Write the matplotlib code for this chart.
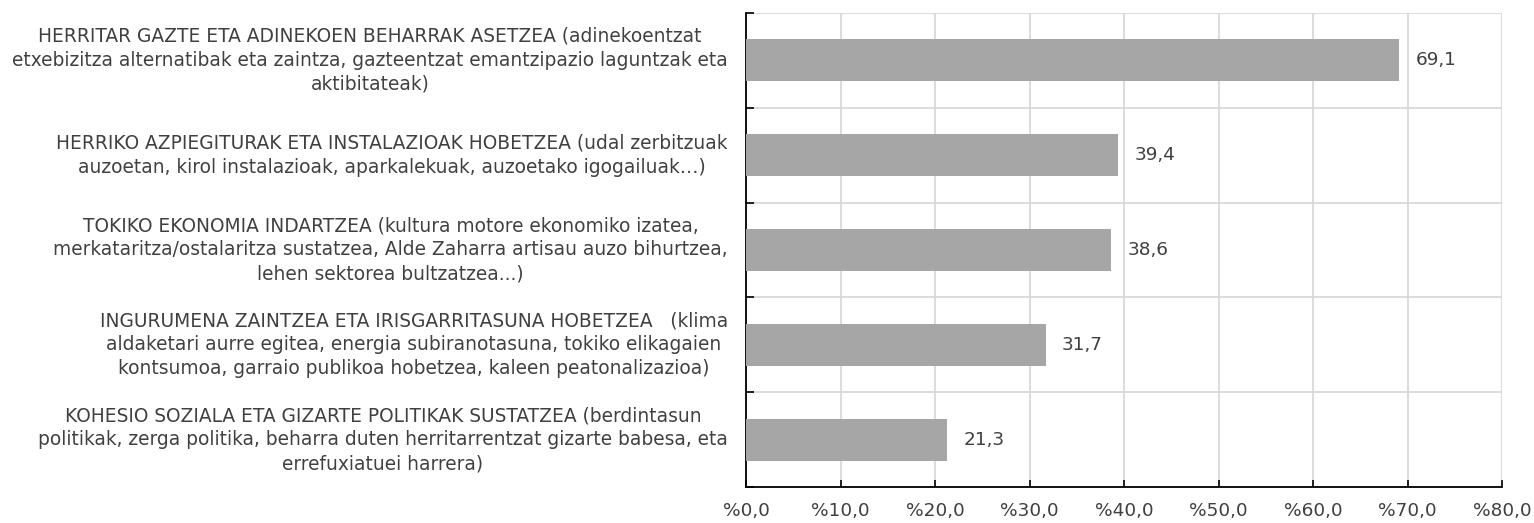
import matplotlib
matplotlib.use("Agg")
import matplotlib.pyplot as plt
from matplotlib.ticker import FuncFormatter, MultipleLocator

categories = [
    "HERRITAR GAZTE ETA ADINEKOEN BEHARRAK ASETZEA (adinekoentzat\netxebizitza alternatibak eta zaintza, gazteentzat emantzipazio laguntzak eta\naktibitateak)",
    "HERRIKO AZPIEGITURAK ETA INSTALAZIOAK HOBETZEA (udal zerbitzuak\nauzoetan, kirol instalazioak, aparkalekuak, auzoetako igogailuak…)",
    "TOKIKO EKONOMIA INDARTZEA (kultura motore ekonomiko izatea,\nmerkataritza/ostalaritza sustatzea, Alde Zaharra artisau auzo bihurtzea,\nlehen sektorea bultzatzea...)",
    "INGURUMENA ZAINTZEA ETA IRISGARRITASUNA HOBETZEA   (klima\naldaketari aurre egitea, energia subiranotasuna, tokiko elikagaien\nkontsumoa, garraio publikoa hobetzea, kaleen peatonalizazioa)",
    "KOHESIO SOZIALA ETA GIZARTE POLITIKAK SUSTATZEA (berdintasun\npolitikak, zerga politika, beharra duten herritarrentzat gizarte babesa, eta\nerrefuxiatuei harrera)",
]
values = [69.1, 39.4, 38.6, 31.7, 21.3]

text_color = "#404040"
bar_color = "#A6A6A6"
grid_color = "#D9D9D9"
fs = 13.3

plt.rcParams['font.family'] = ['DejaVu Sans']

fig = plt.figure(figsize=(15.34, 5.23), dpi=100)
ax = fig.add_axes([746/1534, 1 - 487/523, (1502 - 746)/1534, (487 - 13)/523])

n = len(categories)
ypos = list(range(n - 1, -1, -1))
ax.barh(ypos, values, height=0.443, color=bar_color, zorder=3)

for y, v in zip(ypos, values):
    ax.text(v + 1.75, y, f"{v:.1f}".replace(".", ","), va="center", ha="left",
            fontsize=fs, color=text_color, zorder=4)

ax.set_xlim(0, 80)
ax.set_ylim(-0.5, n - 0.5)

ax.xaxis.set_major_locator(MultipleLocator(10))
ax.xaxis.set_major_formatter(FuncFormatter(lambda x, p: "%" + f"{x:.1f}".replace(".", ",")))

ax.set_yticks(ypos)
ax.set_yticklabels(categories, multialignment="center", fontsize=13.4, color=text_color,
                   linespacing=1.34, va="center")
ax.set_yticks([i - 0.5 for i in range(n + 1)], minor=True)

ax.tick_params(axis="y", which="major", length=0, pad=13)
ax.tick_params(axis="y", which="minor", direction="in", length=6, width=1.2, color="black")
ax.tick_params(axis="x", which="major", direction="in", length=5, width=1.2, color="black",
               labelsize=fs, labelcolor=text_color, pad=11)

ax.grid(True, axis="x", which="major", color=grid_color, linewidth=1.3, zorder=0)
ax.grid(True, axis="y", which="minor", color=grid_color, linewidth=1.3, zorder=0)
ax.grid(False, axis="y", which="major")

for s in ["top", "right"]:
    ax.spines[s].set_visible(False)
for s in ["left", "bottom"]:
    ax.spines[s].set_color("black")
    ax.spines[s].set_linewidth(1.3)
ax.set_axisbelow(True)

fig.savefig("out.png", dpi=100, facecolor="white")
